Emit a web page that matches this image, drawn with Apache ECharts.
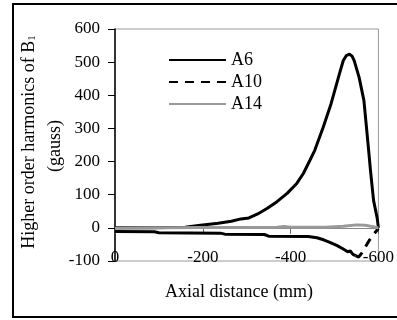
<!DOCTYPE html>
<html>
<head>
<meta charset="utf-8">
<script src="https://cdn.jsdelivr.net/npm/echarts@6/dist/echarts.min.js"></script>
<style>
  html, body { margin: 0; padding: 0; background: #fff; }
  #chart { width: 397px; height: 320px; }
</style>
</head>
<body>
<div id="chart"></div>
<script>
// axial distance (mm) and harmonic values (gauss)
const a6Dist = [0, -80, -160, -190, -235, -265, -287, -305, -325, -347, -369, -392, -414, -429, -444, -455, -474, -492, -511, -520, -527, -534, -540, -545, -556, -567, -573, -578, -582, -589, -597, -600];
const a6Val  = [0, 0, 2, 7, 14, 20, 27, 30, 42, 59, 79, 104, 134, 164, 204, 234, 303, 374, 464, 505, 520, 524, 518, 504, 454, 384, 300, 230, 172, 82, 31, 0];

const a10Dist = [0, -90, -100, -240, -250, -340, -350, -440, -460, -475, -488, -505, -519, -530, -536, -542, -548, -555, -562, -570, -580, -590, -600];
const a10Val  = [-11, -12, -15, -16, -19, -20, -25, -26, -30, -36, -43, -53, -63, -72, -70, -80, -84, -88, -76, -58, -36, -18, -2];
const a10DashFrom = -548; // dense part looks solid, tail is dashed

const a14Dist = [0, -100, -200, -300, -370, -385, -400, -480, -520, -550, -570, -590, -600];
const a14Val  = [-1, 0, 1, 1, 2, 4, 2, 2, 5, 9, 8, 3, 0];

const xTicks = { min: -600, max: 0, step: 200 };
const yTicks = { min: -100, max: 600, step: 100 };

const font = 'Liberation Serif';
const pairs = (xs, ys) => xs.map((x, i) => [x, ys[i]]);
const a10All = pairs(a10Dist, a10Val);

const chart = echarts.init(document.getElementById('chart'));

chart.setOption({
  animation: false,
  backgroundColor: '#fff',
  grid: { left: 115, right: 14, top: 29, bottom: 59, show: true, borderColor: '#999', borderWidth: 1 },
  legend: {
    orient: 'vertical', left: 163, top: 46, padding: 5,
    itemWidth: 57, itemHeight: 14, itemGap: 4,
    itemStyle: { opacity: 0 },
    textStyle: { fontFamily: font, fontSize: 18, color: '#000' },
    data: ['A6', 'A10', 'A14']
  },
  xAxis: [
    {
      type: 'value', min: xTicks.min, max: xTicks.max, interval: xTicks.step, inverse: true,
      position: 'bottom',
      axisLine: { show: false, onZero: false },
      axisTick: { show: false },
      splitLine: { show: false },
      axisLabel: { fontFamily: font, fontSize: 17, color: '#000', margin: -12 }
    },
    {
      type: 'value', min: xTicks.min, max: xTicks.max, interval: xTicks.step, inverse: true,
      position: 'bottom',
      axisLine: { show: true, onZero: true, lineStyle: { color: '#888', width: 1 } },
      axisTick: { show: true, length: 6, lineStyle: { color: '#666' } },
      axisLabel: { show: false },
      splitLine: { show: false }
    }
  ],
  yAxis: {
    type: 'value', min: yTicks.min, max: yTicks.max, interval: yTicks.step,
    axisLine: { show: true, onZero: false, lineStyle: { color: '#000', width: 1.5 } },
    axisTick: { show: true, length: 7, lineStyle: { color: '#000' } },
    splitLine: { show: false },
    axisLabel: { fontFamily: font, fontSize: 17, color: '#000', margin: 15 }
  },
  series: [
    {
      name: 'A10 near', type: 'line', symbol: 'none',
      lineStyle: { color: '#000', width: 3 },
      data: a10All.filter(p => p[0] >= a10DashFrom)
    },
    {
      name: 'A10', type: 'line', symbol: 'none', color: '#000',
      lineStyle: { color: '#000', width: 3, type: [9, 7] },
      data: a10All.filter(p => p[0] <= a10DashFrom)
    },
    {
      name: 'A6', type: 'line', symbol: 'none', color: '#000',
      lineStyle: { color: '#000', width: 3 },
      data: pairs(a6Dist, a6Val)
    },
    {
      name: 'A14', type: 'line', symbol: 'none', color: '#999',
      lineStyle: { color: '#999', width: 3 },
      data: pairs(a14Dist, a14Val)
    }
  ],
  graphic: [
    {
      type: 'rect', silent: true,
      shape: { x: 13, y: 4, width: 400, height: 313 },
      style: { fill: 'none', stroke: '#000', lineWidth: 2 }
    },
    {
      type: 'text', x: 239, y: 292,
      style: { text: 'Axial distance (mm)', font: '18px "Liberation Serif"', fill: '#000', align: 'center', verticalAlign: 'middle' }
    },
    {
      type: 'text', x: 29, y: 142, rotation: Math.PI / 2,
      style: {
        text: '{a|Higher order harmonics of B}{s|1}',
        align: 'center', verticalAlign: 'middle',
        rich: {
          a: { fontFamily: font, fontSize: 18, fill: '#000' },
          s: { fontFamily: font, fontSize: 11, fill: '#000', padding: [6, 0, 0, 0] }
        }
      }
    },
    {
      type: 'text', x: 55, y: 146, rotation: Math.PI / 2,
      style: { text: '(gauss)', font: '18px "Liberation Serif"', fill: '#000', align: 'center', verticalAlign: 'middle' }
    }
  ]
});
</script>
</body>
</html>
